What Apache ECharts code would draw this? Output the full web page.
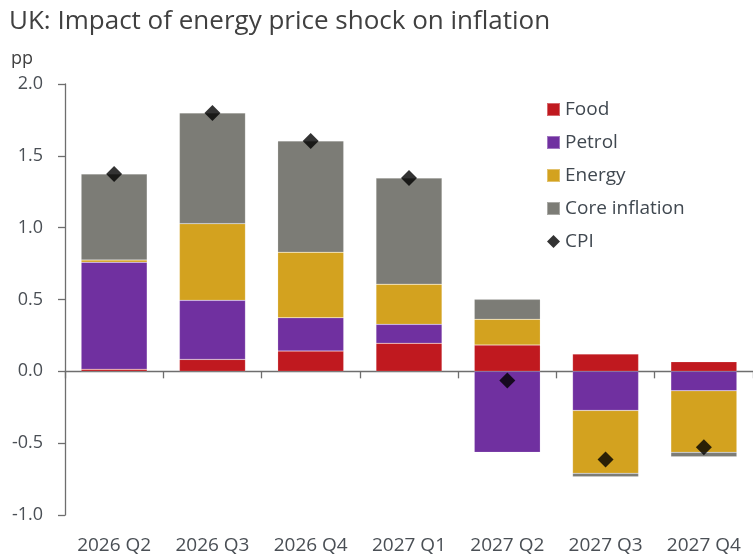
<!DOCTYPE html>
<html>
<head>
<meta charset="utf-8">
<script src="https://cdn.jsdelivr.net/npm/echarts@6/dist/echarts.min.js"></script>
<style>html,body{margin:0;padding:0;background:#fff}#c{width:753px;height:555px}</style>
</head>
<body>
<div id="c"></div>
<script>
const categories = ['2026 Q2','2026 Q3','2026 Q4','2027 Q1','2027 Q2','2027 Q3','2027 Q4'];
const food   = [0.014, 0.083, 0.141, 0.195, 0.183, 0.12, 0.067];
const petrol = [0.745, 0.411, 0.232, 0.132, -0.564, -0.272, -0.135];
const energy = [0.016, 0.534, 0.456, 0.28, 0.179, -0.438, -0.429];
const core   = [0.599, 0.771, 0.775, 0.738, 0.139, -0.024, -0.031];
const cpi    = [1.374, 1.799, 1.604, 1.345, -0.063, -0.614, -0.528];
const yTicks = [-1.0, -0.5, 0.0, 0.5, 1.0, 1.5, 2.0];

const FONT = '"Open Sans", "Noto Sans", sans-serif';
const chart = echarts.init(document.getElementById('c'), null, {renderer: 'canvas'});
const barSeries = (name, data, color) => ({
  name, type: 'bar', stack: 'total', data, barWidth: 66, xAxisIndex: 0,
  itemStyle: {color, borderColor: 'rgba(255,255,255,0.35)', borderWidth: 0.5},
  emphasis: {disabled: true}
});
chart.setOption({
  animation: false,
  textStyle: {fontFamily: FONT},
  title: {
    text: 'UK: Impact of energy price shock on inflation',
    left: 9, top: 9, padding: 0,
    textStyle: {fontFamily: FONT, fontSize: 26, fontWeight: 'normal', color: '#404040'}
  },
  graphic: [{
    type: 'text', left: 11, top: 50,
    style: {text: 'pp', fontFamily: FONT, fontSize: 18, fill: '#404040'}
  }],
  legend: {
    orient: 'vertical', left: 546, top: 100, padding: 0,
    itemWidth: 13, itemHeight: 13, itemGap: 14,
    textStyle: {fontFamily: FONT, fontSize: 19, color: '#404850'},
    data: [
      {name: 'Food', icon: 'rect'},
      {name: 'Petrol', icon: 'rect'},
      {name: 'Energy', icon: 'rect'},
      {name: 'Core inflation', icon: 'rect'},
      {name: 'CPI', icon: 'diamond'}
    ]
  },
  grid: {left: 65, top: 84, width: 693, bottom: 40, containLabel: false},
  xAxis: [{
    type: 'category', data: categories,
    axisLine: {onZero: true, lineStyle: {color: '#6e6e6e', width: 1.3}},
    axisTick: {show: true, length: 7, lineStyle: {color: '#6e6e6e', width: 1.3}},
    axisLabel: {show: false}
  }, {
    type: 'category', data: categories, position: 'bottom',
    axisLine: {show: false, onZero: false},
    axisTick: {show: false},
    axisLabel: {show: true, margin: 21, fontFamily: FONT, fontSize: 19, color: '#4a4f55'}
  }],
  yAxis: {
    type: 'value', min: -1, max: 2, interval: 0.5,
    splitLine: {show: false},
    axisLine: {show: true, lineStyle: {color: '#6e6e6e', width: 1.3}},
    axisTick: {show: true, length: 7, lineStyle: {color: '#6e6e6e', width: 1.3}},
    axisLabel: {
      margin: 22, fontFamily: FONT, fontSize: 18, color: '#4a4f55',
      formatter: v => (yTicks.includes(v) ? v.toFixed(1) : '')
    }
  },
  series: [
    barSeries('Food', food, '#C0191F'),
    barSeries('Petrol', petrol, '#7030A0'),
    barSeries('Energy', energy, '#D3A21F'),
    barSeries('Core inflation', core, '#7C7C76'),
    {
      name: 'CPI', type: 'scatter', data: cpi, xAxisIndex: 0,
      symbol: 'diamond', symbolSize: 16, z: 10,
      itemStyle: {color: '#000'}, emphasis: {disabled: true}
    }
  ]
});
</script>
</body>
</html>
